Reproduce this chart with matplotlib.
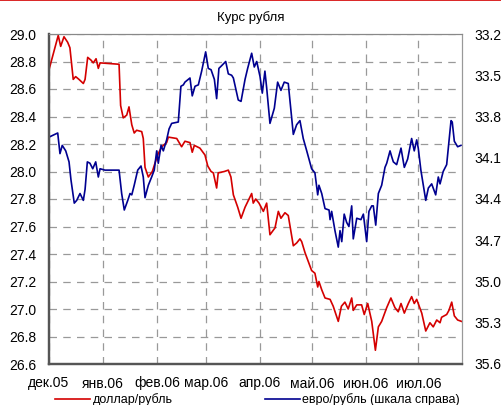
import numpy as np
import pandas as pd
import matplotlib
matplotlib.use("Agg")
import matplotlib.pyplot as plt
from matplotlib.lines import Line2D

plt.rcParams['font.family'] = ['Liberation Sans', 'DejaVu Sans']

# days since 2005-12-01 and values
usd_days = [0, 5.3, 6.7, 8.6, 10.7, 12.0, 13.9, 15.3, 17.2, 19.7, 20.7, 22.2, 24.1, 25.4, 27.0, 28.3, 29.3,
            40.2, 41.1, 42.6, 44.6, 45.9, 47.5, 48.9, 50.3, 53.2, 54.1, 55.1, 57.0, 59.3, 60.8, 62.7, 64.7,
            67.5, 68.5, 73.3, 76.1, 78.0, 80.9, 82.2, 83.4, 86.6, 89.5, 91.1, 93.0, 94.3, 96.2, 97.1, 100.6,
            102.9, 104.4, 105.8, 108.3, 110.2, 112.5, 116.3, 117.2, 118.6, 120.5, 123.0, 124.9, 126.8, 129.7,
            131.6, 133.1, 135.4, 137.3, 140.2, 142.1, 144.0, 145.0, 146.9, 150.7, 152.6, 154.2, 154.9, 156.5,
            158.4, 161.3, 163.1, 166.0, 167.8, 169.8, 171.7, 173.7, 174.6, 176.6, 179.4, 180.9, 182.9, 185.2,
            187.3, 189.0, 190.9, 193.8, 196.2, 198.5, 200.4, 202.0, 203.9, 206.2, 208.1, 209.6, 211.0, 213.9,
            216.2, 218.6, 220.5, 222.5, 224.4, 225.3, 228.2, 229.5, 231.1, 232.6, 234.5, 236.7]
usd_rub = [28.74, 28.99, 28.91, 28.98, 28.94, 28.90, 28.67, 28.69, 28.67, 28.64, 28.67, 28.83, 28.81, 28.79,
           28.82, 28.75, 28.79, 28.78, 28.48, 28.39, 28.41, 28.47, 28.34, 28.28, 28.30, 28.29, 28.24, 28.03,
           27.96, 28.00, 28.06, 28.13, 28.18, 28.21, 28.25, 28.24, 28.18, 28.22, 28.21, 28.14, 28.19, 28.17,
           28.12, 28.04, 28.00, 27.99, 27.88, 27.99, 28.00, 28.01, 27.96, 27.83, 27.74, 27.66, 27.74, 27.84,
           27.77, 27.80, 27.77, 27.71, 27.77, 27.54, 27.59, 27.71, 27.66, 27.70, 27.68, 27.46, 27.48, 27.51,
           27.49, 27.41, 27.28, 27.26, 27.16, 27.20, 27.14, 27.08, 27.07, 27.02, 26.91, 27.02, 27.05, 27.00,
           27.08, 26.99, 27.03, 27.03, 26.96, 27.04, 26.91, 26.70, 26.87, 26.91, 27.01, 27.08, 27.01, 26.98,
           27.04, 26.97, 27.04, 27.09, 27.04, 27.07, 26.97, 26.84, 26.90, 26.87, 26.92, 26.90, 26.94, 26.96,
           26.99, 27.05, 26.95, 26.92, 26.91]

eur_days = [0, 5.0, 6.3, 7.6, 9.6, 11.5, 12.6, 14.5, 15.9, 17.8, 19.7, 20.7, 22.0, 23.5, 25.1, 26.8, 28.3,
            29.3, 32.1, 40.2, 41.7, 43.2, 45.2, 46.5, 47.5, 48.9, 50.9, 52.8, 54.1, 55.1, 57.0, 58.9, 60.4,
            61.8, 62.7, 64.3, 65.6, 67.5, 68.9, 70.4, 74.2, 75.7, 77.1, 78.0, 80.9, 82.2, 83.8, 85.7, 87.6,
            89.9, 91.4, 93.0, 94.9, 96.2, 97.5, 99.1, 101.4, 102.9, 104.8, 105.8, 108.6, 110.2, 112.5, 114.0,
            116.3, 117.8, 119.2, 121.1, 122.4, 123.9, 124.9, 126.8, 129.3, 131.2, 133.1, 135.0, 137.3, 140.2,
            142.1, 144.0, 145.9, 147.9, 150.7, 152.6, 154.2, 154.9, 156.5, 158.4, 160.7, 161.3, 162.2, 164.1,
            166.0, 167.0, 168.0, 169.4, 170.8, 172.1, 173.7, 174.6, 176.6, 179.0, 180.4, 182.3, 183.6, 185.2,
            186.1, 187.5, 189.0, 190.9, 192.8, 193.8, 195.7, 196.6, 197.6, 199.5, 202.0, 203.9, 205.8, 208.1,
            209.6, 211.0, 211.9, 213.4, 216.2, 217.7, 219.6, 221.9, 223.4, 224.4, 226.2, 228.2, 230.7, 231.4,
            232.6, 234.5, 236.4]
eur_rub = [33.95, 33.92, 34.07, 34.01, 34.05, 34.13, 34.26, 34.43, 34.41, 34.36, 34.41, 34.33, 34.13, 34.14,
           34.18, 34.13, 34.24, 34.18, 34.19, 34.19, 34.36, 34.48, 34.41, 34.36, 34.37, 34.30, 34.19, 34.16,
           34.24, 34.39, 34.30, 34.24, 34.19, 34.05, 34.14, 34.01, 34.05, 33.97, 33.89, 33.85, 33.84, 33.58,
           33.57, 33.55, 33.52, 33.65, 33.58, 33.57, 33.47, 33.33, 33.45, 33.46, 33.53, 33.67, 33.45, 33.43,
           33.40, 33.49, 33.50, 33.52, 33.68, 33.69, 33.53, 33.45, 33.34, 33.44, 33.40, 33.51, 33.63, 33.47,
           33.59, 33.85, 33.74, 33.55, 33.61, 33.55, 33.56, 33.93, 33.86, 33.83, 33.96, 34.05, 34.18, 34.21,
           34.37, 34.30, 34.36, 34.47, 34.48, 34.55, 34.49, 34.63, 34.75, 34.63, 34.71, 34.51, 34.57, 34.60,
           34.45, 34.69, 34.54, 34.55, 34.51, 34.71, 34.49, 34.45, 34.45, 34.59, 34.36, 34.30, 34.17, 34.14,
           34.05, 34.09, 34.13, 34.15, 34.03, 34.17, 34.11, 33.96, 34.05, 33.97, 34.03, 34.19, 34.41, 34.32,
           34.29, 34.37, 34.24, 34.29, 34.20, 34.15, 33.83, 33.84, 33.98, 34.02, 34.01]

month_labels = ['дек.05', 'янв.06', 'фев.06', 'мар.06', 'апр.06', 'май.06', 'июн.06', 'июл.06']
left_ticks = np.round(np.arange(26.6, 29.01, 0.2), 1)
right_ticks = np.round(np.arange(33.2, 35.61, 0.3), 1)

start = pd.Timestamp('2005-12-01')
x_usd = start + pd.to_timedelta(usd_days, unit='D')
x_eur = start + pd.to_timedelta(eur_days, unit='D')
months = pd.date_range('2005-12-01', '2006-07-01', freq='MS')

fig = plt.figure(figsize=(5.01, 4.05), dpi=100)
ax = fig.add_axes([49/501, 1 - 364/405, 413/501, 330/405])
ax2 = ax.twinx()

red = '#d40000'
blue = '#000090'
l1, = ax.plot(x_usd, usd_rub, color=red, lw=1.2, label='доллар/рубль')
l2, = ax2.plot(x_eur, eur_rub, color=blue, lw=1.2, label='евро/рубль (шкала справа)')

ax.set_xlim(start, pd.Timestamp('2006-07-26'))
ax.set_ylim(26.6, 29.0)
ax2.set_ylim(35.6, 33.2)  # right scale is inverted
ax.set_yticks(left_ticks)
ax.set_yticklabels([f'{v:.1f}' for v in left_ticks])
ax2.set_yticks(right_ticks)
ax2.set_yticklabels([f'{v:.1f}' for v in right_ticks])
ax.set_xticks(months)
ax.set_xticklabels(month_labels)

ax.grid(True, color='#999999', linestyle=(0, (6, 5)), linewidth=0.9)
ax.tick_params(axis='y', length=0, pad=9, labelsize=10)
ax.tick_params(axis='x', length=0, pad=9, labelsize=10)
ax2.tick_params(axis='y', length=0, pad=9, labelsize=10)

for a in (ax, ax2):
    a.spines['left'].set_color('#555555')
    a.spines['left'].set_linewidth(1.6)
    a.spines['bottom'].set_color('#555555')
    a.spines['bottom'].set_linewidth(1.6)
    a.spines['top'].set_color('#888888')
    a.spines['right'].set_color('#999999')

fig.text(0.5, 1 - 18/405, 'Курс рубля', ha='center', va='center', fontsize=9.5)

fig.legend([l1, l2], [l1.get_label(), l2.get_label()], loc='center', bbox_to_anchor=(0.514, 5.5/405),
           ncol=2, frameon=False, fontsize=9, handlelength=2.8, handletextpad=0.16, columnspacing=7.4,
           borderaxespad=0, borderpad=0)

fig.add_artist(Line2D([0, 1], [0.999, 0.999], transform=fig.transFigure, color=red, lw=1.2))

fig.savefig('out.png', dpi=100)
